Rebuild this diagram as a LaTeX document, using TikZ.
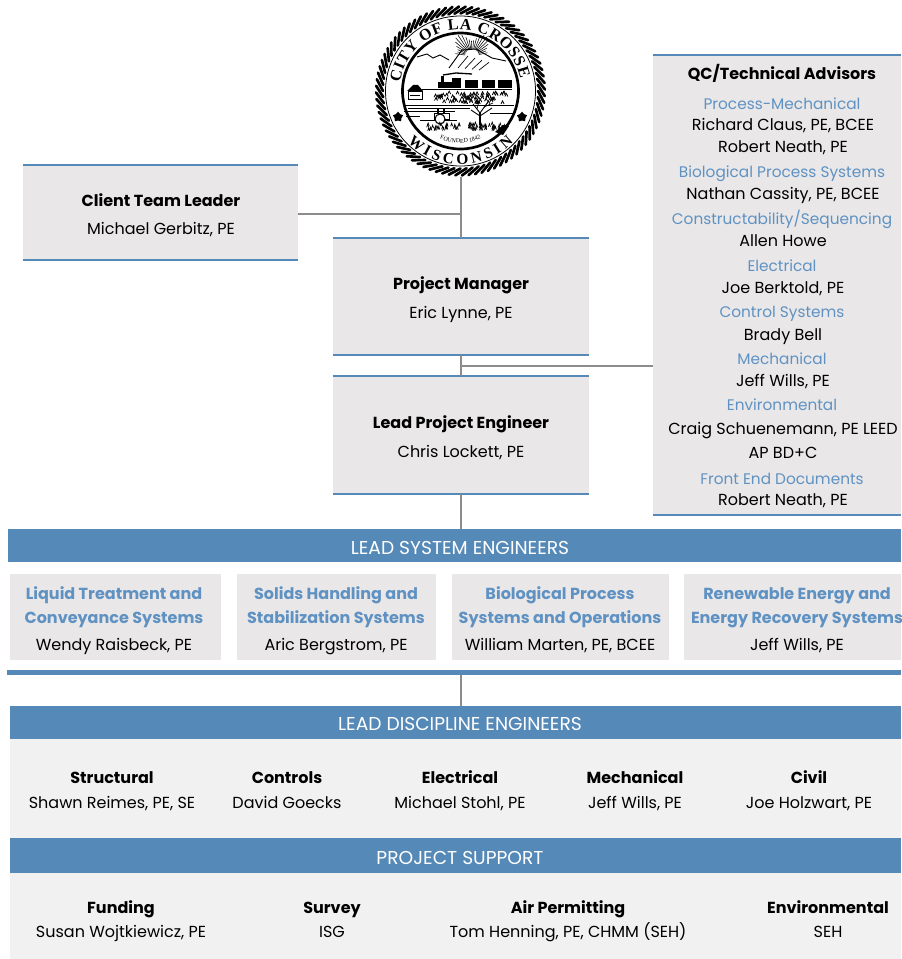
\documentclass[tikz,border=0pt]{standalone}
\usepackage{fontspec}
\setmainfont{Poppins}
\newfontfamily\sealfont{Liberation Serif}
\usetikzlibrary{shapes.geometric, decorations.text, positioning}
\definecolor{bandblue}{RGB}{85, 137, 184}
\definecolor{headblue}{RGB}{95, 146, 194}
\definecolor{boxgray}{RGB}{233, 231, 232}
\definecolor{panelgray}{RGB}{241, 241, 242}
\definecolor{linkgray}{RGB}{140, 140, 140}
\tikzset{
    panel/.style={fill=boxgray, inner sep=0pt},
    linetext/.style={inner sep=0pt, text height=8.4pt, text depth=0pt, yshift=-0.6pt},
    titletext/.style={linetext, font=\fontsize{12}{14}\selectfont\bfseries, black},
    nametext/.style={linetext, font=\fontsize{12}{14}\selectfont, black},
    headtext/.style={linetext, font=\fontsize{11.5}{14}\selectfont, headblue},
    systext/.style={linetext, font=\fontsize{12}{14}\selectfont\bfseries, headblue},
    bandtext/.style={inner sep=0pt, text height=9.8pt, text depth=0pt, yshift=-0.6pt, font=\fontsize{14}{16}\selectfont, white},
    bandbox/.style={fill=bandblue, inner sep=0pt},
    sealstar/.style={star, fill=black, minimum size=8pt, inner sep=0pt},
    boxrule/.style={bandblue, line width=1.5pt},
    link/.style={linkgray, line width=1.1pt}
}
\begin{document}
\begin{tikzpicture}[x=0.75pt, y=-0.75pt]
\useasboundingbox (0,0) rectangle (901,959);

% Grey panels behind the discipline rows
\fill[panelgray] (10,739) rectangle (901,959);

% Seal
\node[circle, minimum size=129pt, inner sep=0pt] (seal) at (460.5,91) {};
\begin{scope}[shift={(460.5,91)}]
    \foreach \a in {0,4.5,...,355.5} {
        \draw[line width=2pt, line cap=round] (\a:77.5) -- (\a+8:84.5);
    }
    \draw[line width=0.6pt] (0,0) circle (75);
    \draw[line width=2pt] (0,0) circle (58);
    \path[decorate, decoration={text along path, text align={fit to path},
        text={|\sealfont\bfseries\fontsize{12}{14}\selectfont|CITY OF LA CROSSE}}]
        (-172:61) arc (-172:-12:61);
    \path[decorate, decoration={text along path, text align={fit to path},
        text={|\sealfont\bfseries\fontsize{11.5}{14}\selectfont|WISCONSIN}}]
        (136:73.5) arc (136:44:73.5);
    \path[decorate, decoration={text along path, text align=center,
        text={|\sealfont\fontsize{4.5}{5}\selectfont|FOUNDED 1842}}]
        (118:52) arc (118:62:52);
\end{scope}
\node[sealstar] (starleft) at (398,117) {};
\node[sealstar] (starright) at (522,117) {};

% Sun and mountains
\foreach \a in {-172,-164,...,-8} {
    \draw[line width=0.4pt] (472,56) ++(\a:7) -- ++(\a:{13+5*sin(5*\a)});
}
\draw[line width=0.7pt] (417,57) -- (427,54) -- (433,58) -- (440,55) -- (449,60);
\draw[line width=0.7pt] (449,68) -- (462,50) -- (476,49) -- (492,58) -- (506,61);
\foreach \dx in {0,7,14,21} {
    \draw[line width=0.5pt] (468+\dx,56+\dx*0.3) -- (458+\dx,68+\dx*0.1);
}

% Train
\draw[line width=0.8pt] (422,89.5) -- (512,89.5);
\fill (465,80) rectangle (478,88.5);
\fill (482,80) rectangle (495,88.5);
\fill (498,80) rectangle (512,88.5);
\fill (438,82) rectangle (452,88.5);
\fill (452,78) rectangle (461,88.5);
\fill (441,76) rectangle (444,82);
\draw[line width=1pt] (443,75) -- (456,73) -- (472,74);

% House
\fill (407,91) -- (413,85) -- (418,85) -- (423,91) -- cycle;
\draw[line width=0.6pt] (408,91) rectangle (422,99);
\fill (410,95) rectangle (420,96);

% Grass behind the water
\pgfmathsetseed{7}
\foreach \i in {1,...,70} {
    \pgfmathsetmacro{\gx}{472 + rand*40}
    \pgfmathsetmacro{\gy}{99 + rand*5}
    \draw[line width=0.6pt] (\gx,\gy) -- ++(1.5,-3) -- ++(1.5,3);
}

% Water
\foreach \wy/\wa/\wb in {105/405/514, 108/408/470, 111/404/455, 113/490/515, 116/406/420} {
    \draw[line width=0.5pt] (\wa,\wy) -- (\wb,\wy);
}

% Boat
\draw[line width=1.4pt] (420,120.5) -- (457,120.5);
\fill (437,108) rectangle (439,113);
\fill (443,108) rectangle (445,113);
\draw[line width=0.7pt] (434,113) rectangle (449,119);
\draw[line width=0.8pt, fill=white] (440,119) circle (5);

% Tree
\draw[line width=1.3pt] (480,125) -- (480,112);
\draw[line width=0.7pt] (480,113) -- (473,104);
\draw[line width=0.7pt] (480,113) -- (488,102);
\draw[line width=0.7pt] (480,116) -- (492,108);
\draw[line width=0.7pt] (480,116) -- (471,110);
\draw[line width=0.5pt] (477,109) -- (479,101);
\draw[line width=0.5pt] (484,107) -- (493,103);

% Near shore
\foreach \i in {1,...,70} {
    \pgfmathsetmacro{\gx}{465 + rand*40}
    \pgfmathsetmacro{\gy}{128 + rand*3}
    \draw[line width=0.5pt] (\gx,\gy) -- ++(1,-3) -- ++(1,3);
}
\fill (495,132) -- (503,125) -- (509,126) -- (503,135) -- cycle;

% Top boxes
\node[panel, minimum width=206.25pt, minimum height=71.25pt] (client) at (160.5,212.5) {};
\node[panel, minimum width=192pt, minimum height=87.75pt] (pm) at (461,296.5) {};
\node[panel, minimum width=192pt, minimum height=88.5pt] (lpe) at (461,435) {};
\node[panel, minimum width=186pt, minimum height=345pt] (qc) at (777,285) {};
\foreach \b in {client,pm,lpe,qc} {
    \draw[boxrule] (\b.north west) -- (\b.north east);
    \draw[boxrule] (\b.south west) -- (\b.south east);
}

% Bands
\node[bandbox, minimum width=669.75pt, minimum height=24.75pt] (sysband) at (454.5,545.5) {};
\node[bandbox, minimum width=670.5pt, minimum height=3.75pt] (sysrule) at (454,672.5) {};
\node[bandbox, minimum width=668.25pt, minimum height=24.75pt] (discband) at (455.5,722.5) {};
\node[bandbox, minimum width=668.25pt, minimum height=26.25pt] (suppband) at (455.5,855.5) {};
\node[bandtext] (systitle) at (460,547) {LEAD SYSTEM ENGINEERS};
\node[bandtext] (disctitle) at (460,723) {LEAD DISCIPLINE ENGINEERS};
\node[bandtext] (supptitle) at (460,857) {PROJECT SUPPORT};

% Connectors
\coordinate (clientjoin) at (461,214);
\coordinate (qcjoin) at (461,366);
\draw[link] (seal.south -| pm.north) -- (pm.north);
\draw[link] (client.east |- clientjoin) -- (clientjoin);
\draw[link] (pm.south) -- (lpe.north);
\draw[link] (qcjoin) -- (qc.west |- qcjoin);
\draw[link] (lpe.south) -- (sysband.north -| lpe.south);
\draw[link] (sysrule.south -| lpe.south) -- (discband.north -| lpe.south);

% Box texts
\node[titletext] (clienttitle) at (161,200) {Client Team Leader};
\node[nametext] (clientname) at (161,228) {Michael Gerbitz, PE};
\node[titletext] (pmtitle) at (461,283) {Project Manager};
\node[nametext] (pmname) at (461,312) {Eric Lynne, PE};
\node[titletext] (lpetitle) at (461,422) {Lead Project Engineer};
\node[nametext] (lpename) at (461,451) {Chris Lockett, PE};

% QC list
\node[titletext] (qctitle) at (782,73) {QC/Technical Advisors};
\foreach \ypos/\txt [count=\i] in {103/{Process-Mechanical}, 171/{Biological Process Systems},
    218/{Constructability{/}Sequencing}, 265/{Electrical}, 311/{Control Systems}, 358/{Mechanical},
    404/{Environmental}, 478/{Front End Documents}} {
    \node[headtext] (qchead\i) at (782,\ypos) {\txt};
}
\foreach \ypos/\txt [count=\i] in {124/{Richard Claus, PE, BCEE}, 146/{Robert Neath, PE},
    193/{Nathan Cassity, PE, BCEE}, 240/{Allen Howe}, 287/{Joe Berktold, PE}, 334/{Brady Bell},
    380/{Jeff Wills, PE}, 428/{Craig Schuenemann, PE LEED}, 452/{AP BD+C}, 499/{Robert Neath, PE}} {
    \node[nametext] (qcname\i) at (783,\ypos) {\txt};
}

% System boxes
\foreach \xa/\xb/\xm/\head/\subhead/\who [count=\i] in {
    10/221/114/{Liquid Treatment and}/{Conveyance Systems}/{Wendy Raisbeck, PE},
    237/436/336/{Solids Handling and}/{Stabilization Systems}/{Aric Bergstrom, PE},
    452/669/560/{Biological Process}/{Systems and Operations}/{William Marten, PE, BCEE},
    684/901/797/{Renewable Energy and}/{Energy Recovery Systems}/{Jeff Wills, PE}} {
    \fill[boxgray] (\xa,574) rectangle (\xb,660);
    \node[systext] (syshead\i) at (\xm,593) {\head};
    \node[systext] (syssub\i) at (\xm,617) {\subhead};
    \node[nametext] (sysname\i) at (\xm,644) {\who};
}

% Discipline rows
\foreach \xpos/\head/\who [count=\i] in {112/Structural/{Shawn Reimes, PE, SE}, 287/Controls/{David Goecks},
    460/Electrical/{Michael Stohl, PE}, 635/Mechanical/{Jeff Wills, PE}, 809/Civil/{Joe Holzwart, PE}} {
    \node[titletext] (dischead\i) at (\xpos,777) {\head};
    \node[nametext] (discname\i) at (\xpos,802) {\who};
}
\foreach \xpos/\head/\who [count=\i] in {121/Funding/{Susan Wojtkiewicz, PE}, 332/Survey/{ISG},
    568/Air Permitting/{Tom Henning, PE, CHMM (SEH)}, 828/Environmental/{SEH}} {
    \node[titletext] (supphead\i) at (\xpos,907) {\head};
    \node[nametext] (suppname\i) at (\xpos,931) {\who};
}

\end{tikzpicture}
\end{document}
